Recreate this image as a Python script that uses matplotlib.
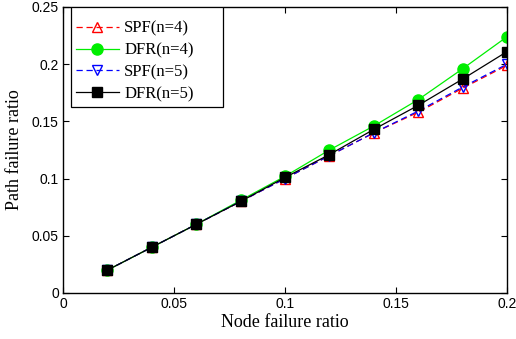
import matplotlib
matplotlib.use('Agg')
import matplotlib.pyplot as plt
from matplotlib.patches import Rectangle
import numpy as np

x = [0.02, 0.04, 0.06, 0.08, 0.10, 0.12, 0.14, 0.16, 0.18, 0.20]
spf4 = [0.020, 0.040, 0.060, 0.080, 0.100, 0.120, 0.140, 0.158, 0.179, 0.199]
dfr4 = [0.020, 0.040, 0.060, 0.081, 0.102, 0.125, 0.146, 0.169, 0.196, 0.224]
spf5 = [0.020, 0.040, 0.060, 0.080, 0.100, 0.120, 0.140, 0.159, 0.180, 0.200]
dfr5 = [0.020, 0.040, 0.060, 0.080, 0.101, 0.121, 0.143, 0.164, 0.187, 0.211]

fig = plt.figure(figsize=(5.16, 3.39), dpi=100)
ax = fig.add_axes([63/516, 46/339, 444/516, 286/339])

ax.plot(x, spf4, color='r', ls=(0, (5, 3)), lw=0.9, marker='^', ms=7, mfc='none', mec='r', label='SPF(n=4)')
ax.plot(x, dfr4, color='#00ee00', lw=0.9, marker='o', ms=8, mfc='#00ee00', mec='#00ee00', label='DFR(n=4)')
ax.plot(x, spf5, color='b', ls=(0, (5, 3)), lw=0.9, marker='v', ms=7, mfc='none', mec='b', label='SPF(n=5)')
ax.plot(x, dfr5, color='k', lw=0.9, marker='s', ms=7, mfc='k', mec='k', label='DFR(n=5)')

ax.set_xlim(0, 0.2)
ax.set_ylim(0, 0.25)
ax.set_xticks([0, 0.05, 0.1, 0.15, 0.2])
ax.set_xticklabels(['0', '0.05', '0.1', '0.15', '0.2'])
ax.set_yticks([0, 0.05, 0.1, 0.15, 0.2, 0.25])
ax.set_yticklabels(['0', '0.05', '0.1', '0.15', '0.2', '0.25'])
ax.tick_params(direction='in', top=True, right=True, length=4, labelsize=10, pad=3)
for lab in ax.get_xticklabels() + ax.get_yticklabels():
    lab.set_family('Liberation Sans')
for s in ax.spines.values():
    s.set_linewidth(1.0)

ax.set_xlabel('Node failure ratio', family='Liberation Serif', fontsize=13, labelpad=2)
ax.set_ylabel('Path failure ratio', family='Liberation Serif', fontsize=13, labelpad=6)

# legend entries, frame drawn separately (wide MATLAB-style box)
leg = ax.legend(loc='upper left', bbox_to_anchor=(-0.005, 1.005), prop={'family': 'Liberation Serif', 'size': 12},
                frameon=False, handlelength=2.6, labelspacing=0.35,
                borderpad=0.4, handletextpad=0.3)
ax.add_patch(Rectangle((8/444, 1 - 100/286), 152/444, 100/286, transform=ax.transAxes,
                       fill=True, facecolor='white', edgecolor='k', lw=0.9, zorder=4.9))
leg.set_zorder(5)

fig.savefig('out.png', dpi=100)
